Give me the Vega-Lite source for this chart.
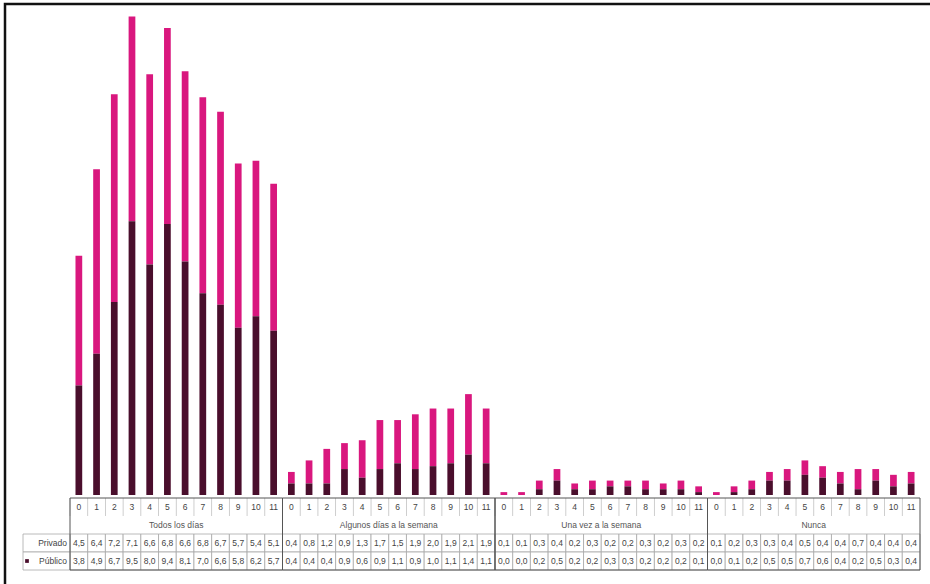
{
  "$schema": "https://vega.github.io/schema/vega-lite/v6.json",
  "width": 925,
  "height": 580,
  "autosize": {"type": "none"},
  "padding": {"left": 5, "top": 4, "right": 0, "bottom": 0},
  "background": "white",
  "config": {
    "view": {"stroke": "#111111", "strokeWidth": 2.5, "strokeDash": [925, 1505, 580]},
    "locale": {"number": {"decimal": ",", "thousands": ".", "grouping": [3], "currency": ["", " €"]}},
    "text": {"font": "Liberation Sans", "fontSize": 8.5, "fill": "#444444"}
  },
  "data": {"values": [
    {"g":"Todos los días","k":"T0","n":"0","s":"Privado","v":4.5},{"g":"Todos los días","k":"T0","n":"0","s":"Público","v":3.8},
    {"g":"Todos los días","k":"T1","n":"1","s":"Privado","v":6.4},{"g":"Todos los días","k":"T1","n":"1","s":"Público","v":4.9},
    {"g":"Todos los días","k":"T2","n":"2","s":"Privado","v":7.2},{"g":"Todos los días","k":"T2","n":"2","s":"Público","v":6.7},
    {"g":"Todos los días","k":"T3","n":"3","s":"Privado","v":7.1},{"g":"Todos los días","k":"T3","n":"3","s":"Público","v":9.5},
    {"g":"Todos los días","k":"T4","n":"4","s":"Privado","v":6.6},{"g":"Todos los días","k":"T4","n":"4","s":"Público","v":8.0},
    {"g":"Todos los días","k":"T5","n":"5","s":"Privado","v":6.8},{"g":"Todos los días","k":"T5","n":"5","s":"Público","v":9.4},
    {"g":"Todos los días","k":"T6","n":"6","s":"Privado","v":6.6},{"g":"Todos los días","k":"T6","n":"6","s":"Público","v":8.1},
    {"g":"Todos los días","k":"T7","n":"7","s":"Privado","v":6.8},{"g":"Todos los días","k":"T7","n":"7","s":"Público","v":7.0},
    {"g":"Todos los días","k":"T8","n":"8","s":"Privado","v":6.7},{"g":"Todos los días","k":"T8","n":"8","s":"Público","v":6.6},
    {"g":"Todos los días","k":"T9","n":"9","s":"Privado","v":5.7},{"g":"Todos los días","k":"T9","n":"9","s":"Público","v":5.8},
    {"g":"Todos los días","k":"T10","n":"10","s":"Privado","v":5.4},{"g":"Todos los días","k":"T10","n":"10","s":"Público","v":6.2},
    {"g":"Todos los días","k":"T11","n":"11","s":"Privado","v":5.1},{"g":"Todos los días","k":"T11","n":"11","s":"Público","v":5.7},
    {"g":"Algunos días a la semana","k":"A0","n":"0","s":"Privado","v":0.4},{"g":"Algunos días a la semana","k":"A0","n":"0","s":"Público","v":0.4},
    {"g":"Algunos días a la semana","k":"A1","n":"1","s":"Privado","v":0.8},{"g":"Algunos días a la semana","k":"A1","n":"1","s":"Público","v":0.4},
    {"g":"Algunos días a la semana","k":"A2","n":"2","s":"Privado","v":1.2},{"g":"Algunos días a la semana","k":"A2","n":"2","s":"Público","v":0.4},
    {"g":"Algunos días a la semana","k":"A3","n":"3","s":"Privado","v":0.9},{"g":"Algunos días a la semana","k":"A3","n":"3","s":"Público","v":0.9},
    {"g":"Algunos días a la semana","k":"A4","n":"4","s":"Privado","v":1.3},{"g":"Algunos días a la semana","k":"A4","n":"4","s":"Público","v":0.6},
    {"g":"Algunos días a la semana","k":"A5","n":"5","s":"Privado","v":1.7},{"g":"Algunos días a la semana","k":"A5","n":"5","s":"Público","v":0.9},
    {"g":"Algunos días a la semana","k":"A6","n":"6","s":"Privado","v":1.5},{"g":"Algunos días a la semana","k":"A6","n":"6","s":"Público","v":1.1},
    {"g":"Algunos días a la semana","k":"A7","n":"7","s":"Privado","v":1.9},{"g":"Algunos días a la semana","k":"A7","n":"7","s":"Público","v":0.9},
    {"g":"Algunos días a la semana","k":"A8","n":"8","s":"Privado","v":2.0},{"g":"Algunos días a la semana","k":"A8","n":"8","s":"Público","v":1.0},
    {"g":"Algunos días a la semana","k":"A9","n":"9","s":"Privado","v":1.9},{"g":"Algunos días a la semana","k":"A9","n":"9","s":"Público","v":1.1},
    {"g":"Algunos días a la semana","k":"A10","n":"10","s":"Privado","v":2.1},{"g":"Algunos días a la semana","k":"A10","n":"10","s":"Público","v":1.4},
    {"g":"Algunos días a la semana","k":"A11","n":"11","s":"Privado","v":1.9},{"g":"Algunos días a la semana","k":"A11","n":"11","s":"Público","v":1.1},
    {"g":"Una vez a la semana","k":"U0","n":"0","s":"Privado","v":0.1},{"g":"Una vez a la semana","k":"U0","n":"0","s":"Público","v":0.0},
    {"g":"Una vez a la semana","k":"U1","n":"1","s":"Privado","v":0.1},{"g":"Una vez a la semana","k":"U1","n":"1","s":"Público","v":0.0},
    {"g":"Una vez a la semana","k":"U2","n":"2","s":"Privado","v":0.3},{"g":"Una vez a la semana","k":"U2","n":"2","s":"Público","v":0.2},
    {"g":"Una vez a la semana","k":"U3","n":"3","s":"Privado","v":0.4},{"g":"Una vez a la semana","k":"U3","n":"3","s":"Público","v":0.5},
    {"g":"Una vez a la semana","k":"U4","n":"4","s":"Privado","v":0.2},{"g":"Una vez a la semana","k":"U4","n":"4","s":"Público","v":0.2},
    {"g":"Una vez a la semana","k":"U5","n":"5","s":"Privado","v":0.3},{"g":"Una vez a la semana","k":"U5","n":"5","s":"Público","v":0.2},
    {"g":"Una vez a la semana","k":"U6","n":"6","s":"Privado","v":0.2},{"g":"Una vez a la semana","k":"U6","n":"6","s":"Público","v":0.3},
    {"g":"Una vez a la semana","k":"U7","n":"7","s":"Privado","v":0.2},{"g":"Una vez a la semana","k":"U7","n":"7","s":"Público","v":0.3},
    {"g":"Una vez a la semana","k":"U8","n":"8","s":"Privado","v":0.3},{"g":"Una vez a la semana","k":"U8","n":"8","s":"Público","v":0.2},
    {"g":"Una vez a la semana","k":"U9","n":"9","s":"Privado","v":0.2},{"g":"Una vez a la semana","k":"U9","n":"9","s":"Público","v":0.2},
    {"g":"Una vez a la semana","k":"U10","n":"10","s":"Privado","v":0.3},{"g":"Una vez a la semana","k":"U10","n":"10","s":"Público","v":0.2},
    {"g":"Una vez a la semana","k":"U11","n":"11","s":"Privado","v":0.2},{"g":"Una vez a la semana","k":"U11","n":"11","s":"Público","v":0.1},
    {"g":"Nunca","k":"N0","n":"0","s":"Privado","v":0.1},{"g":"Nunca","k":"N0","n":"0","s":"Público","v":0.0},
    {"g":"Nunca","k":"N1","n":"1","s":"Privado","v":0.2},{"g":"Nunca","k":"N1","n":"1","s":"Público","v":0.1},
    {"g":"Nunca","k":"N2","n":"2","s":"Privado","v":0.3},{"g":"Nunca","k":"N2","n":"2","s":"Público","v":0.2},
    {"g":"Nunca","k":"N3","n":"3","s":"Privado","v":0.3},{"g":"Nunca","k":"N3","n":"3","s":"Público","v":0.5},
    {"g":"Nunca","k":"N4","n":"4","s":"Privado","v":0.4},{"g":"Nunca","k":"N4","n":"4","s":"Público","v":0.5},
    {"g":"Nunca","k":"N5","n":"5","s":"Privado","v":0.5},{"g":"Nunca","k":"N5","n":"5","s":"Público","v":0.7},
    {"g":"Nunca","k":"N6","n":"6","s":"Privado","v":0.4},{"g":"Nunca","k":"N6","n":"6","s":"Público","v":0.6},
    {"g":"Nunca","k":"N7","n":"7","s":"Privado","v":0.4},{"g":"Nunca","k":"N7","n":"7","s":"Público","v":0.4},
    {"g":"Nunca","k":"N8","n":"8","s":"Privado","v":0.7},{"g":"Nunca","k":"N8","n":"8","s":"Público","v":0.2},
    {"g":"Nunca","k":"N9","n":"9","s":"Privado","v":0.4},{"g":"Nunca","k":"N9","n":"9","s":"Público","v":0.5},
    {"g":"Nunca","k":"N10","n":"10","s":"Privado","v":0.4},{"g":"Nunca","k":"N10","n":"10","s":"Público","v":0.3},
    {"g":"Nunca","k":"N11","n":"11","s":"Privado","v":0.4},{"g":"Nunca","k":"N11","n":"11","s":"Público","v":0.4}
  ]},
  "resolve": {"scale": {"x": "independent", "y": "independent"}},
  "layer": [
    {
      "mark": {"type": "bar", "width": {"band": 0.38}},
      "encoding": {
        "x": {"field": "k", "type": "nominal", "sort": null, "scale": {"range": [65, 915], "paddingInner": 0, "paddingOuter": 0}, "axis": null},
        "y": {"field": "v", "type": "quantitative", "stack": "zero", "scale": {"domain": [0, 17], "range": [491, 1], "nice": false}, "axis": null},
        "color": {"field": "s", "type": "nominal", "scale": {"domain": ["Privado", "Público"], "range": ["#d9177e", "#4a0e2c"]}, "legend": null},
        "order": {"field": "s", "sort": "descending"}
      }
    },
    {
      "mark": {"type": "rect", "fill": "white", "stroke": "#a8a8a8", "strokeWidth": 0.8},
      "encoding": {
        "x": {"field": "k", "type": "nominal", "sort": null, "scale": {"range": [65, 915], "paddingInner": 0, "paddingOuter": 0}, "axis": null},
        "y": {"field": "s", "type": "nominal", "scale": {"domain": ["num", "grp", "Privado", "Público"], "range": [494, 566], "paddingInner": 0, "paddingOuter": 0}, "axis": null}
      }
    },
    {
      "transform": [{"filter": "datum.k == 'T0'"}],
      "mark": {"type": "rect", "fill": "white", "stroke": "#a8a8a8", "strokeWidth": 0.8},
      "encoding": {
        "x": {"field": "g", "type": "nominal", "scale": {"type": "band", "domain": ["Todos los días"], "range": [18, 65], "paddingInner": 0, "paddingOuter": 0}, "axis": null},
        "y": {"field": "s", "type": "nominal", "scale": {"domain": ["num", "grp", "Privado", "Público"], "range": [494, 566], "paddingInner": 0, "paddingOuter": 0}, "axis": null}
      }
    },
    {
      "transform": [{"filter": "datum.s == 'Privado'"}],
      "mark": {"type": "tick", "orient": "vertical", "size": 18, "thickness": 0.8, "color": "#a8a8a8"},
      "encoding": {
        "x": {"field": "k", "type": "nominal", "sort": null, "bandPosition": 0, "scale": {"range": [65, 915], "paddingInner": 0, "paddingOuter": 0}, "axis": null},
        "y": {"datum": "num", "type": "nominal", "scale": {"domain": ["num", "grp", "Privado", "Público"], "range": [494, 566], "paddingInner": 0, "paddingOuter": 0}, "axis": null}
      }
    },
    {
      "transform": [{"filter": "datum.s == 'Privado' && datum.n == '0'"}],
      "mark": {"type": "rect", "filled": false, "stroke": "#555555", "strokeWidth": 1},
      "encoding": {
        "x": {"field": "g", "type": "nominal", "sort": null, "scale": {"range": [65, 915], "paddingInner": 0, "paddingOuter": 0}, "axis": null},
        "y": {"datum": "all", "type": "nominal", "scale": {"domain": ["all"], "range": [494, 566], "paddingInner": 0, "paddingOuter": 0}, "axis": null}
      }
    },
    {
      "transform": [{"filter": "datum.s == 'Privado'"}],
      "mark": {"type": "text"},
      "encoding": {
        "x": {"field": "k", "type": "nominal", "sort": null, "scale": {"range": [65, 915], "paddingInner": 0, "paddingOuter": 0}, "axis": null},
        "y": {"datum": "num", "type": "nominal", "scale": {"domain": ["num", "grp", "Privado", "Público"], "range": [494, 566], "paddingInner": 0, "paddingOuter": 0}, "axis": null},
        "text": {"field": "n"}
      }
    },
    {
      "transform": [{"filter": "datum.s == 'Privado' && datum.n == '0'"}],
      "mark": {"type": "text", "fill": "#555555"},
      "encoding": {
        "x": {"field": "g", "type": "nominal", "sort": null, "scale": {"range": [65, 915], "paddingInner": 0, "paddingOuter": 0}, "axis": null},
        "y": {"datum": "grp", "type": "nominal", "scale": {"domain": ["num", "grp", "Privado", "Público"], "range": [494, 566], "paddingInner": 0, "paddingOuter": 0}, "axis": null},
        "text": {"field": "g"}
      }
    },
    {
      "mark": {"type": "text"},
      "encoding": {
        "x": {"field": "k", "type": "nominal", "sort": null, "scale": {"range": [65, 915], "paddingInner": 0, "paddingOuter": 0}, "axis": null},
        "y": {"field": "s", "type": "nominal", "scale": {"domain": ["num", "grp", "Privado", "Público"], "range": [494, 566], "paddingInner": 0, "paddingOuter": 0}, "axis": null},
        "text": {"field": "v", "type": "quantitative", "format": ".1f"}
      }
    },
    {
      "transform": [{"filter": "datum.k == 'T0'"}],
      "mark": {"type": "text", "align": "right", "dx": -3},
      "encoding": {
        "x": {"field": "g", "type": "nominal", "bandPosition": 1, "scale": {"type": "band", "domain": ["Todos los días"], "range": [18, 65], "paddingInner": 0, "paddingOuter": 0}, "axis": null},
        "y": {"field": "s", "type": "nominal", "scale": {"domain": ["num", "grp", "Privado", "Público"], "range": [494, 566], "paddingInner": 0, "paddingOuter": 0}, "axis": null},
        "text": {"field": "s"}
      }
    },
    {
      "transform": [{"filter": "datum.k == 'T0' && datum.s == 'Público'"}],
      "mark": {"type": "point", "shape": "square", "filled": true, "size": 14, "color": "#4a0e2c", "opacity": 1, "xOffset": 4},
      "encoding": {
        "x": {"field": "g", "type": "nominal", "bandPosition": 0, "scale": {"type": "band", "domain": ["Todos los días"], "range": [18, 65], "paddingInner": 0, "paddingOuter": 0}, "axis": null},
        "y": {"field": "s", "type": "nominal", "scale": {"domain": ["num", "grp", "Privado", "Público"], "range": [494, 566], "paddingInner": 0, "paddingOuter": 0}, "axis": null}
      }
    }
  ]
}
